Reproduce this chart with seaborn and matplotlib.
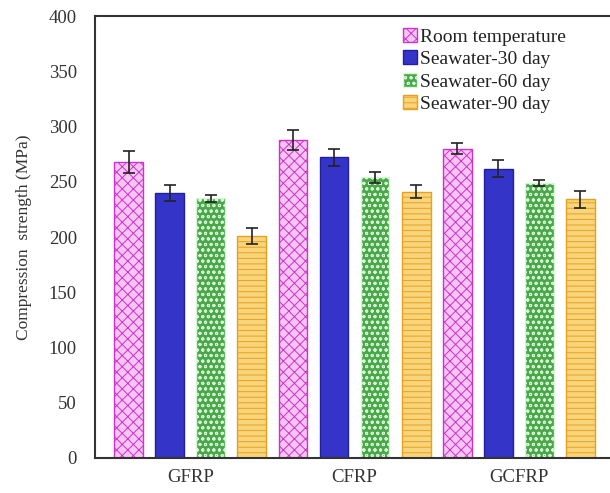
import numpy as np
import pandas as pd
import seaborn as sns
import matplotlib.pyplot as plt
from matplotlib.patches import Patch

materials = ['GFRP', 'CFRP', 'GCFRP']
conditions = ['Room temperature', 'Seawater-30 day', 'Seawater-60 day', 'Seawater-90 day']
strength = {
    'Room temperature': [268, 288, 280],
    'Seawater-30 day': [240, 272, 262],
    'Seawater-60 day': [235, 254, 249],
    'Seawater-90 day': [201, 241, 234],
}
errors = {
    'Room temperature': [10, 9, 5],
    'Seawater-30 day': [7, 8, 8],
    'Seawater-60 day': [3, 5, 3],
    'Seawater-90 day': [7, 6, 8],
}

faces = ['#f7c4f3', '#3434c8', '#4aa84a', '#f8d57a']
edges = ['#cc33cc', '#2020a0', '#d8f5d8', '#e8a020']
hatches = ['xxx', '', 'ooo', '---']

rows = []
for c in conditions:
    for m, v in zip(materials, strength[c]):
        rows.append({'material': m, 'condition': c, 'value': v})
df = pd.DataFrame(rows)

sns.set_style('white')
plt.rcParams['font.family'] = ['Liberation Serif', 'DejaVu Serif']
plt.rcParams['hatch.linewidth'] = 0.7

fig = plt.figure(figsize=(6.1, 4.93), dpi=100)
ax = fig.add_axes([0.1557, 0.071, 0.843, 0.8965])

sns.barplot(data=df, x='material', y='value', hue='condition', order=materials,
            hue_order=conditions, width=1.0, gap=0.3, errorbar=None, legend=False, ax=ax)

handles = []
for i, (cont, c) in enumerate(zip(ax.containers, conditions)):
    xs, ys = [], []
    for p in cont.patches:
        p.set_facecolor(faces[i])
        p.set_edgecolor(edges[i])
        p.set_hatch(hatches[i])
        p.set_linewidth(1.0)
        xs.append(p.get_x() + p.get_width() / 2)
        ys.append(p.get_height())
    ax.errorbar(xs, ys, yerr=errors[c], fmt='none', ecolor='#222222',
                elinewidth=1.2, capsize=4, capthick=1.2, zorder=5)
    handles.append(Patch(facecolor=faces[i], edgecolor=edges[i], hatch=hatches[i], label=c))

ax.set_xlim(-0.58, 2.55)
ax.set_ylim(0, 400)
ax.set_yticks(range(0, 401, 50))
ax.set_xlabel('')
ax.set_ylabel('Compression  strength (MPa)', fontsize=12.5, color='#333333', labelpad=12)
ax.tick_params(axis='both', labelsize=13.5, colors='#333333', length=0)
ax.tick_params(axis='y', pad=13)
ax.tick_params(axis='x', pad=8)
for s in ['left', 'bottom', 'top']:
    ax.spines[s].set_color('#333333')
    ax.spines[s].set_linewidth(1.5)
ax.spines['right'].set_visible(False)

ax.legend(handles=handles, loc='upper left', bbox_to_anchor=(0.58, 0.995), frameon=False,
          fontsize=14, handlelength=0.7, handleheight=0.7, handletextpad=0.2,
          labelspacing=0.25, borderpad=0, labelcolor='#222222')

fig.savefig('out.png', dpi=100)
